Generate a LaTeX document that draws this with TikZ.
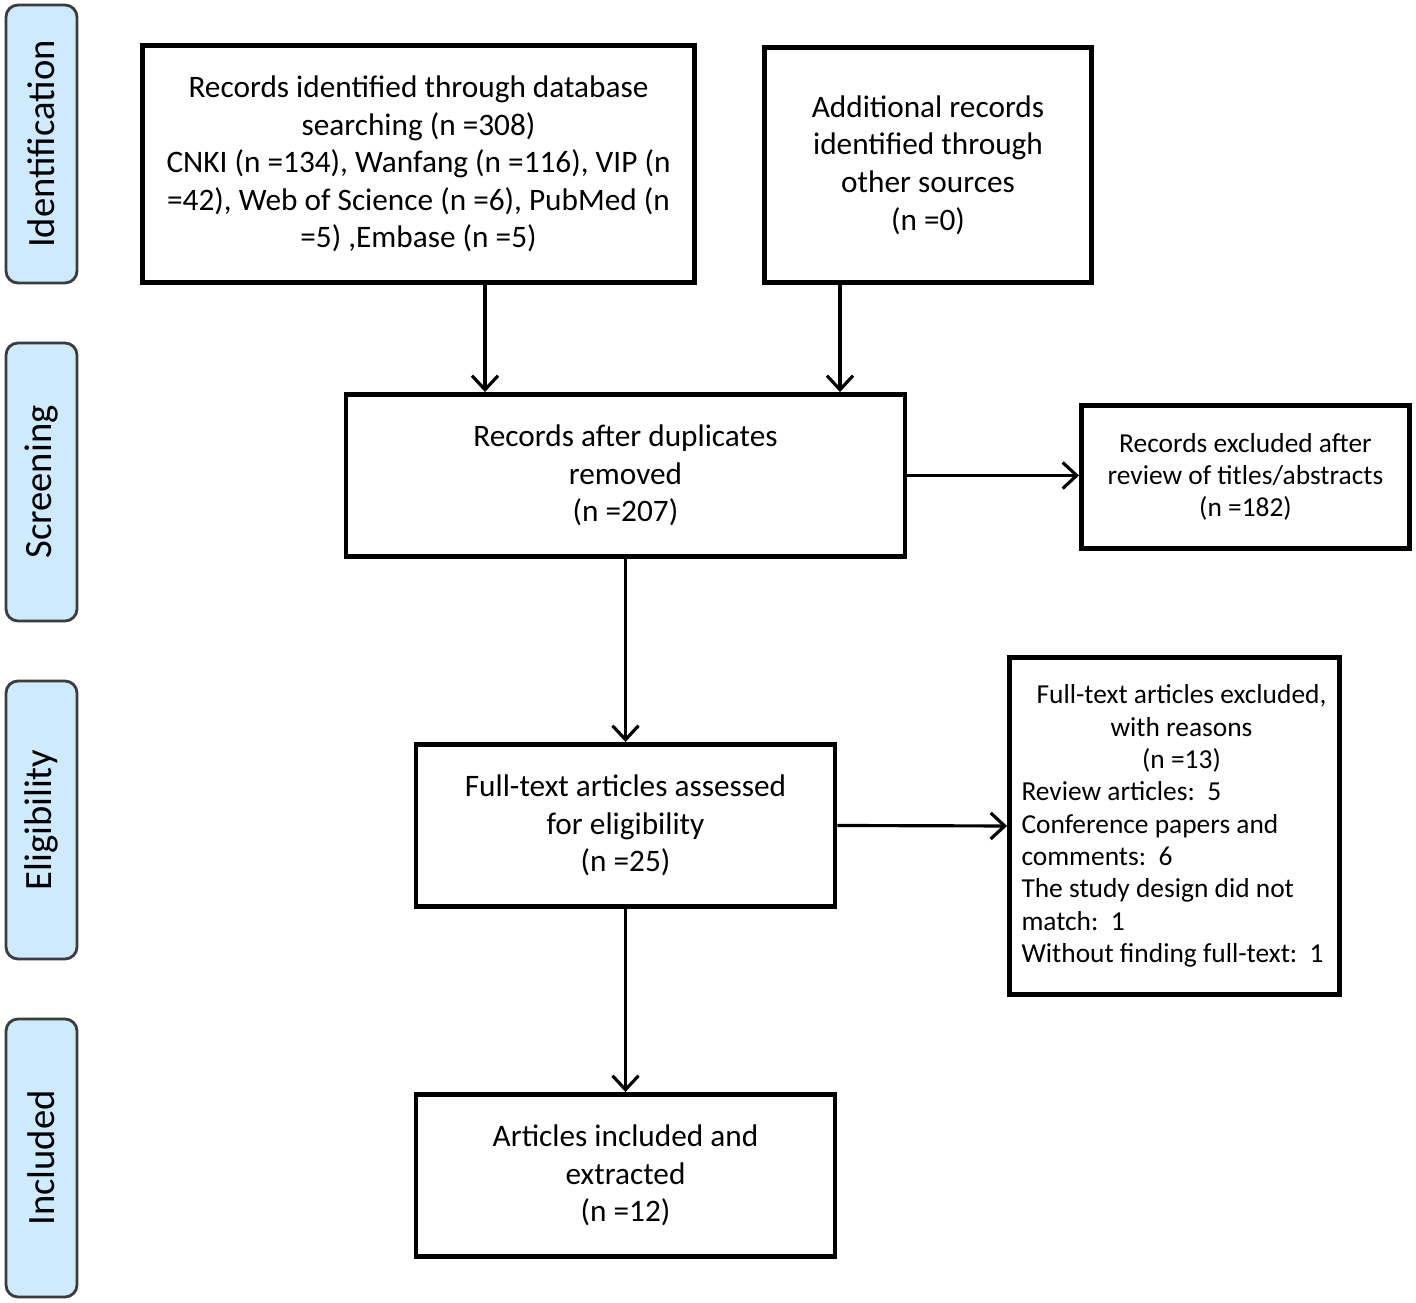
\documentclass[tikz,border=0pt]{standalone}
\usepackage{fontspec}
\setmainfont{Carlito}
\usetikzlibrary{arrows.meta, positioning}
\definecolor{phaseblue}{RGB}{205,235,252}
\definecolor{phaseline}{RGB}{60,60,60}

\begin{document}
\begin{tikzpicture}[
            box/.style={rectangle, draw, line width=1.4pt, align=center, font=\fontsize{8.9}{10.7}\selectfont},
            smallbox/.style={box, font=\fontsize{7.8}{9.2}\selectfont},
            phase/.style={rectangle, rounded corners=1.2mm, draw=phaseline, fill=phaseblue, line width=0.8pt, rotate=90, minimum width=2.78cm, minimum height=0.71cm, font=\fontsize{11}{13}\selectfont},
            arrow/.style={-{Straight Barb[length=1.4mm, width=2.6mm, line width=0.9pt]}, line width=0.9pt}
        ]

            \useasboundingbox (0,0) rectangle (14.16,-13.03);

            \node[phase] (P1) at (0.415,-1.44) {Identification};
            \node[phase] (P2) at (0.415,-4.82) {Screening};
            \node[phase] (P3) at (0.415,-8.20) {Eligibility};
            \node[phase] (P4) at (0.415,-11.58) {Included};

            \node[box, minimum width=5.52cm, minimum height=2.37cm] (db) at (4.185,-1.64) {Records identified through database\\ searching (n =308)\\ CNKI (n =134), Wanfang (n =116), VIP (n\\ =42), Web of Science (n =6), PubMed (n\\ =5) ,Embase (n =5)};
            \node[box, minimum width=3.27cm, minimum height=2.35cm] (other) at (9.28,-1.65) {Additional records\\ identified through\\ other sources\\ (n =0)};

            \node[box, minimum width=5.59cm, minimum height=1.62cm] (dup) at (6.255,-4.755) {Records after duplicates\\ removed\\ (n =207)};
            \node[smallbox, minimum width=3.28cm, minimum height=1.43cm] (screx) at (12.455,-4.77) {Records excluded after\\ review of titles/abstracts\\ (n =182)};

            \node[box, minimum width=4.19cm, minimum height=1.62cm] (full) at (6.255,-8.255) {Full-text articles assessed\\ for eligibility\\ (n =25)};
            \node[smallbox, minimum width=3.30cm, minimum height=3.37cm, text width=3.06cm, align=flush left] (fullex) at (11.745,-8.26) {{\centering\hspace*{1.4mm}Full-text articles excluded,\\ \hspace*{1.4mm}with reasons\\ \hspace*{1.4mm}(n =13)\par}Review articles:\ \ 5\\ Conference papers and\\ comments:\ \ 6\\ The study design did not\\ match:\ \ 1\\ Without finding full-text:\ \ 1};

            \node[box, minimum width=4.19cm, minimum height=1.62cm] (incl) at (6.255,-11.755) {Articles included and\\ extracted\\ (n =12)};


            \draw[arrow] (db.south -| 4.85,0) -- (dup.north -| 4.85,0);
            \draw[arrow] (other.south -| 8.40,0) -- (dup.north -| 8.40,0);
            \draw[arrow] (dup.south) -- (full.north);
            \draw[arrow] (dup.east) -- (dup.east -| screx.west);
            \draw[arrow] (full.east) -- (fullex.west);
            \draw[arrow] (full.south) -- (incl.north);

        \end{tikzpicture}
\end{document}
